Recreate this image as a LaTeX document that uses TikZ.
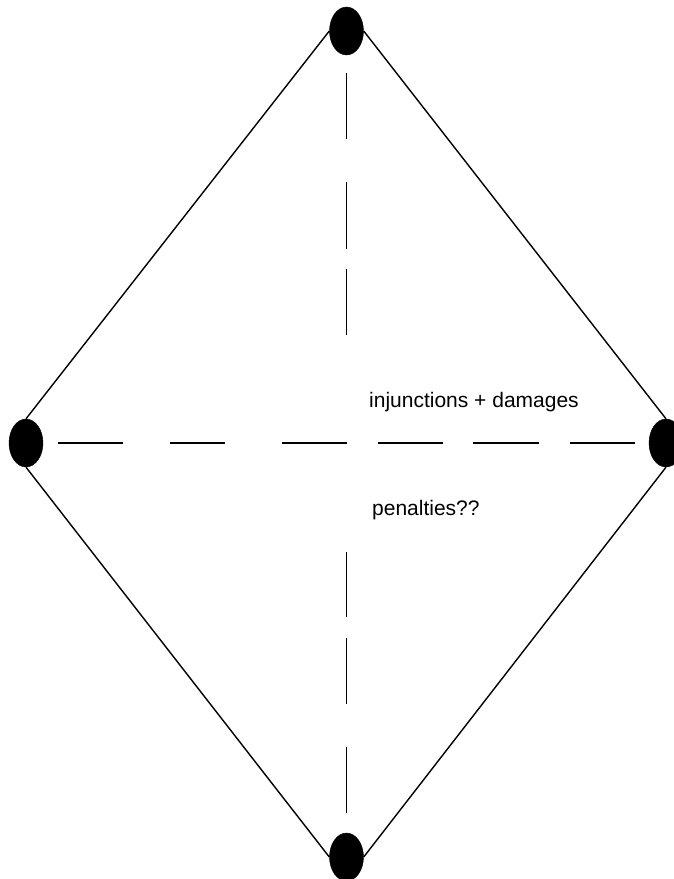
\documentclass[tikz,border=0pt]{standalone}
\usepackage{fontspec}
\setmainfont{Liberation Sans}
\usetikzlibrary{shapes.geometric}
\tikzstyle{blob} = [draw, fill=black, ellipse, minimum width=34pt, minimum height=48pt, inner sep=0pt]
\tikzstyle{edge} = [draw, line width=1.4pt]
\tikzstyle{dashline} = [draw, line width=1.8pt]
\tikzstyle{note} = [inner sep=0pt, font=\fontsize{21}{25}\selectfont]
\begin{document}
\begin{tikzpicture}[x=1pt, y=-1pt]
    \useasboundingbox (0,0) rectangle (674,879);
    \node[blob] (top) at (346.5,31) {};
    \node[blob] (left) at (26,443) {};
    \node[blob] (right) at (666,443) {};
    \node[blob] (bottom) at (346.5,857) {};
    \path[edge] (top.west) -- (left.north);
    \path[edge] (top.east) -- (right.north);
    \path[edge] (left.south) -- (bottom.west);
    \path[edge] (right.south) -- (bottom.east);
    % dashed cross
    \path[dashline, dash pattern=on 65pt off 47pt on 55pt off 57pt on 65pt off 31pt on 65pt off 30pt on 66pt off 31pt on 65pt off 29pt, dash phase=591pt] (left) -- (right);
    \path[dashline, dash pattern=on 66pt off 43pt on 67pt off 20pt on 66pt off 217pt on 65pt off 21pt on 66pt off 43pt on 66pt off 38pt, dash phase=760pt] (top) -- (bottom);
    \node[note, anchor=base west] (remedy) at (369,407) {injunctions + damages};
    \node[note, anchor=base west] (penalty) at (372,515) {penalties??};
\end{tikzpicture}
\end{document}
